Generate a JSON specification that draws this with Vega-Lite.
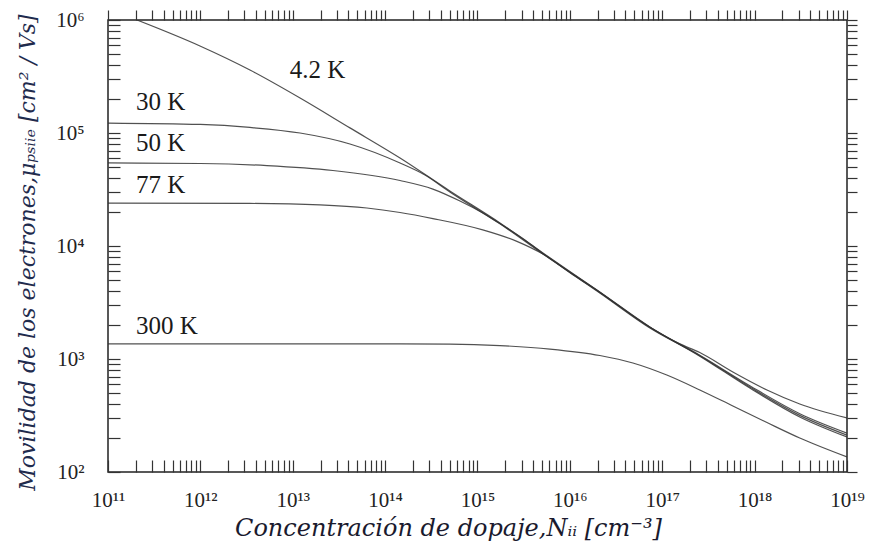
{
  "$schema": "https://vega.github.io/schema/vega-lite/v6.json",
  "autosize": {"type": "none"},
  "padding": {"left": 108, "top": 20, "right": 28, "bottom": 82},
  "width": 739,
  "height": 452,
  "background": "white",
  "config": {
    "view": {"stroke": "#222", "strokeWidth": 1.5},
    "axis": {"grid": false, "domain": false}
  },
  "datasets": {
    "curves": [
      {"T": "4.2 K", "N": 2.06e11, "mu": 1.0e6},
      {"T": "4.2 K", "N": 9.9e11, "mu": 5.89e5},
      {"T": "4.2 K", "N": 3.44e12, "mu": 3.61e5},
      {"T": "4.2 K", "N": 1.2e13, "mu": 2.04e5},
      {"T": "4.2 K", "N": 4.16e13, "mu": 1.11e5},
      {"T": "4.2 K", "N": 1.45e14, "mu": 6.01e4},
      {"T": "4.2 K", "N": 5.02e14, "mu": 3.07e4},
      {"T": "4.2 K", "N": 1.75e15, "mu": 1.6e4},
      {"T": "4.2 K", "N": 5.11e15, "mu": 8670},
      {"T": "4.2 K", "N": 2.11e16, "mu": 3920},
      {"T": "4.2 K", "N": 7.35e16, "mu": 1920},
      {"T": "4.2 K", "N": 2.55e17, "mu": 1060},
      {"T": "4.2 K", "N": 8.87e17, "mu": 553},
      {"T": "4.2 K", "N": 3.08e18, "mu": 307},
      {"T": "4.2 K", "N": 1e19, "mu": 204},

      {"T": "30 K", "N": 1e11, "mu": 1.225e5},
      {"T": "30 K", "N": 1e12, "mu": 1.19e5},
      {"T": "30 K", "N": 3.44e12, "mu": 1.12e5},
      {"T": "30 K", "N": 1.2e13, "mu": 1.0e5},
      {"T": "30 K", "N": 4.16e13, "mu": 8.0e4},
      {"T": "30 K", "N": 1.45e14, "mu": 5.43e4},
      {"T": "30 K", "N": 2.7e14, "mu": 4.25e4},
      {"T": "30 K", "N": 5.02e14, "mu": 3.01e4},
      {"T": "30 K", "N": 1.75e15, "mu": 1.57e4},
      {"T": "30 K", "N": 5.11e15, "mu": 8490},
      {"T": "30 K", "N": 2.11e16, "mu": 3840},
      {"T": "30 K", "N": 7.35e16, "mu": 1880},
      {"T": "30 K", "N": 2.55e17, "mu": 1070},
      {"T": "30 K", "N": 8.87e17, "mu": 565},
      {"T": "30 K", "N": 3.08e18, "mu": 317},
      {"T": "30 K", "N": 1e19, "mu": 212},

      {"T": "50 K", "N": 1e11, "mu": 5.43e4},
      {"T": "50 K", "N": 1e12, "mu": 5.37e4},
      {"T": "50 K", "N": 5.26e12, "mu": 5.15e4},
      {"T": "50 K", "N": 2.72e13, "mu": 4.66e4},
      {"T": "50 K", "N": 1.45e14, "mu": 3.8e4},
      {"T": "50 K", "N": 3.29e14, "mu": 3.19e4},
      {"T": "50 K", "N": 6.46e14, "mu": 2.5e4},
      {"T": "50 K", "N": 1.14e15, "mu": 1.96e4},
      {"T": "50 K", "N": 1.98e15, "mu": 1.48e4},
      {"T": "50 K", "N": 3.26e15, "mu": 1.13e4},
      {"T": "50 K", "N": 5.11e15, "mu": 8600},
      {"T": "50 K", "N": 2.11e16, "mu": 3900},
      {"T": "50 K", "N": 7.35e16, "mu": 1910},
      {"T": "50 K", "N": 2.55e17, "mu": 1080},
      {"T": "50 K", "N": 8.87e17, "mu": 580},
      {"T": "50 K", "N": 3.08e18, "mu": 328},
      {"T": "50 K", "N": 1e19, "mu": 221},

      {"T": "77 K", "N": 1e11, "mu": 2.4e4},
      {"T": "77 K", "N": 3.44e12, "mu": 2.38e4},
      {"T": "77 K", "N": 1.97e13, "mu": 2.31e4},
      {"T": "77 K", "N": 6.35e13, "mu": 2.17e4},
      {"T": "77 K", "N": 1.45e14, "mu": 1.98e4},
      {"T": "77 K", "N": 3.29e14, "mu": 1.75e4},
      {"T": "77 K", "N": 1.14e15, "mu": 1.39e4},
      {"T": "77 K", "N": 2.67e15, "mu": 1.1e4},
      {"T": "77 K", "N": 5.11e15, "mu": 8490},
      {"T": "77 K", "N": 1.13e16, "mu": 5430},
      {"T": "77 K", "N": 2.11e16, "mu": 3880},
      {"T": "77 K", "N": 7.35e16, "mu": 1910},
      {"T": "77 K", "N": 1.55e17, "mu": 1360},
      {"T": "77 K", "N": 2.55e17, "mu": 1140},
      {"T": "77 K", "N": 5.81e17, "mu": 767},
      {"T": "77 K", "N": 1.36e18, "mu": 532},
      {"T": "77 K", "N": 3.08e18, "mu": 400},
      {"T": "77 K", "N": 1e19, "mu": 301},

      {"T": "300 K", "N": 1e11, "mu": 1360},
      {"T": "300 K", "N": 1e12, "mu": 1360},
      {"T": "300 K", "N": 1.2e13, "mu": 1360},
      {"T": "300 K", "N": 1.45e14, "mu": 1360},
      {"T": "300 K", "N": 5.02e14, "mu": 1355},
      {"T": "300 K", "N": 1.75e15, "mu": 1315},
      {"T": "300 K", "N": 6.08e15, "mu": 1225},
      {"T": "300 K", "N": 2.11e16, "mu": 1074},
      {"T": "300 K", "N": 4.81e16, "mu": 922},
      {"T": "300 K", "N": 1.12e17, "mu": 721},
      {"T": "300 K", "N": 2.55e17, "mu": 532},
      {"T": "300 K", "N": 5.81e17, "mu": 384},
      {"T": "300 K", "N": 1.36e18, "mu": 274},
      {"T": "300 K", "N": 3.08e18, "mu": 200},
      {"T": "300 K", "N": 1e19, "mu": 136}
    ],
    "labels": [
      {"label": "4.2 K", "N": 9.3e12, "mu": 3.61e5},
      {"label": "30 K", "N": 2.01e11, "mu": 1.88e5},
      {"label": "50 K", "N": 2.01e11, "mu": 8.2e4},
      {"label": "77 K", "N": 2.01e11, "mu": 3.47e4},
      {"label": "300 K", "N": 2.01e11, "mu": 1960}
    ]
  },
  "layer": [
    {
      "data": {"name": "curves"},
      "mark": {"type": "line", "interpolate": "monotone", "stroke": "#333", "strokeWidth": 1.2, "strokeOpacity": 0.85, "clip": true},
      "encoding": {
        "detail": {"field": "T", "type": "nominal"},
        "x": {
          "field": "N", "type": "quantitative",
          "scale": {"type": "log", "domain": [1e11, 1e19], "nice": false},
          "axis": {
            "orient": "bottom",
            "values": [1e11,2e11,3e11,4e11,5e11,6e11,7e11,8e11,9e11,1e12,2e12,3e12,4e12,5e12,6e12,7e12,8e12,9e12,1e13,2e13,3e13,4e13,5e13,6e13,7e13,8e13,9e13,1e14,2e14,3e14,4e14,5e14,6e14,7e14,8e14,9e14,1e15,2e15,3e15,4e15,5e15,6e15,7e15,8e15,9e15,1e16,2e16,3e16,4e16,5e16,6e16,7e16,8e16,9e16,1e17,2e17,3e17,4e17,5e17,6e17,7e17,8e17,9e17,1e18,2e18,3e18,4e18,5e18,6e18,7e18,8e18,9e18,1e19],
            "labelExpr": "abs(log(datum.value)/LN10 - round(log(datum.value)/LN10)) < 0.001 ? '10' + (round(log(datum.value)/LN10) >= 10 ? '¹' + substring('⁰¹²³⁴⁵⁶⁷⁸⁹', round(log(datum.value)/LN10) - 10, round(log(datum.value)/LN10) - 9) : substring('⁰¹²³⁴⁵⁶⁷⁸⁹', round(log(datum.value)/LN10), round(log(datum.value)/LN10) + 1)) : ''",
            "labelOverlap": false,
            "labelFlush": false,
            "labelFont": "Liberation Serif",
            "labelFontSize": 21,
            "labelColor": "#222",
            "labelPadding": 29,
            "tickColor": "#333",
            "tickWidth": 1.2,
            "tickSize": -12,
            "encode": {"ticks": {"update": {"y2": {"signal": "abs(log(datum.value)/LN10 - round(log(datum.value)/LN10)) < 0.001 ? -12 : -6"}}}},
            "title": "Concentración de dopaje,Nᵢᵢ [cm⁻³]",
            "titleFont": "DejaVu Serif",
            "titleFontStyle": "italic",
            "titleFontWeight": "normal",
            "titleFontSize": 24,
            "titleColor": "#1a1a2e",
            "titleX": 340,
            "titleY": 63,
            "titleAlign": "center",
            "titleBaseline": "alphabetic"
          }
        },
        "y": {
          "field": "mu", "type": "quantitative",
          "scale": {"type": "log", "domain": [100, 1e6], "nice": false},
          "axis": {
            "orient": "left",
            "values": [100,200,300,400,500,600,700,800,900,1000,2000,3000,4000,5000,6000,7000,8000,9000,10000,20000,30000,40000,50000,60000,70000,80000,90000,100000,200000,300000,400000,500000,600000,700000,800000,900000,1000000],
            "labelExpr": "abs(log(datum.value)/LN10 - round(log(datum.value)/LN10)) < 0.001 ? '10' + substring('⁰¹²³⁴⁵⁶⁷⁸⁹', round(log(datum.value)/LN10), round(log(datum.value)/LN10) + 1) : ''",
            "labelOverlap": false,
            "labelFlush": false,
            "labelFont": "Liberation Serif",
            "labelFontSize": 21,
            "labelColor": "#222",
            "labelPadding": 36,
            "labelBaseline": "middle",
            "tickColor": "#333",
            "tickWidth": 1.2,
            "tickSize": -12,
            "encode": {"ticks": {"update": {"x2": {"signal": "abs(log(datum.value)/LN10 - round(log(datum.value)/LN10)) < 0.001 ? 12 : 6"}}}},
            "title": "Movilidad de los electrones,μₚₛᵢᵢₑ [cm² / Vs]",
            "titleFont": "DejaVu Serif",
            "titleFontStyle": "italic",
            "titleFontWeight": "normal",
            "titleFontSize": 22,
            "titleColor": "#1f2b4d",
            "titleAngle": -90,
            "titleX": -81,
            "titleY": 232,
            "titleAlign": "center",
            "titleBaseline": "middle"
          }
        }
      }
    },
    {
      "data": {"name": "labels"},
      "mark": {"type": "text", "font": "Liberation Serif", "fontSize": 25, "align": "left", "baseline": "middle", "color": "#1a1a1a"},
      "encoding": {
        "text": {"field": "label", "type": "nominal"},
        "x": {
          "field": "N", "type": "quantitative",
          "scale": {"type": "log", "domain": [1e11, 1e19], "nice": false},
          "axis": {
            "orient": "top",
            "values": [1e11,2e11,3e11,4e11,5e11,6e11,7e11,8e11,9e11,1e12,2e12,3e12,4e12,5e12,6e12,7e12,8e12,9e12,1e13,2e13,3e13,4e13,5e13,6e13,7e13,8e13,9e13,1e14,2e14,3e14,4e14,5e14,6e14,7e14,8e14,9e14,1e15,2e15,3e15,4e15,5e15,6e15,7e15,8e15,9e15,1e16,2e16,3e16,4e16,5e16,6e16,7e16,8e16,9e16,1e17,2e17,3e17,4e17,5e17,6e17,7e17,8e17,9e17,1e18,2e18,3e18,4e18,5e18,6e18,7e18,8e18,9e18,1e19],
            "labels": false,
            "title": null,
            "tickColor": "#333",
            "tickWidth": 1.2,
            "tickSize": 10,
            "encode": {"ticks": {"update": {"y2": {"signal": "abs(log(datum.value)/LN10 - round(log(datum.value)/LN10)) < 0.001 ? 10 : 5"}}}}
          }
        },
        "y": {
          "field": "mu", "type": "quantitative",
          "scale": {"type": "log", "domain": [100, 1e6], "nice": false},
          "axis": {
            "orient": "right",
            "values": [100,200,300,400,500,600,700,800,900,1000,2000,3000,4000,5000,6000,7000,8000,9000,10000,20000,30000,40000,50000,60000,70000,80000,90000,100000,200000,300000,400000,500000,600000,700000,800000,900000,1000000],
            "labels": false,
            "title": null,
            "tickColor": "#333",
            "tickWidth": 1.2,
            "tickSize": 10,
            "encode": {"ticks": {"update": {"x2": {"signal": "abs(log(datum.value)/LN10 - round(log(datum.value)/LN10)) < 0.001 ? -10 : -5"}}}}
          }
        }
      }
    }
  ],
  "resolve": {"axis": {"x": "independent", "y": "independent"}}
}
